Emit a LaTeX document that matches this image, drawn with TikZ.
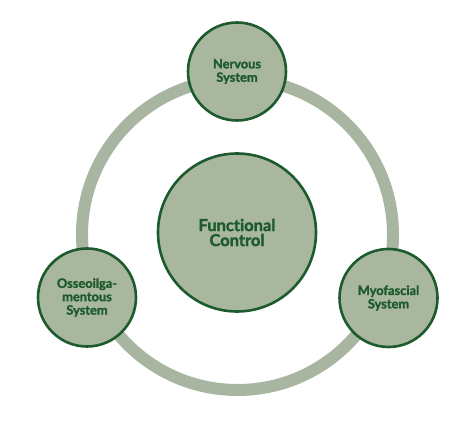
\documentclass[tikz,border=0pt]{standalone}
\usepackage{fontspec}
\setmainfont{Lato}[Ligatures={NoCommon},BoldFeatures={FakeBold=1.6}]
\definecolor{sage}{HTML}{A9B79F}
\definecolor{ringc}{HTML}{A8B5A0}
\definecolor{dgreen}{HTML}{1D5A2D}
\begin{document}
\begin{tikzpicture}[x=1pt,y=-1pt,
  bubble/.style={circle,draw=dgreen,line width=2.6pt,fill=sage,inner sep=0pt,
    text=dgreen,align=center,font=\bfseries\fontsize{12.8}{13.4}\selectfont},
  bigbubble/.style={bubble,font=\bfseries\fontsize{16.5}{15}\selectfont}]
\useasboundingbox (0,0) rectangle (474,422);
\draw[ringc,line width=12pt] (237.5,234.5) circle[radius=155.5];
\node[bigbubble,minimum size=158pt] (fc) at (237,232.5) {Functional\\Control};
\node[bubble,minimum size=98pt] (ns) at (237,71.5) {Nervous\\System};
\node[bubble,minimum size=98pt] (os) at (87,297.5) {Osseoilga-\\mentous\\System};
\node[bubble,minimum size=98pt] (ms) at (388.5,298) {Myofascial\\System};
\end{tikzpicture}
\end{document}
